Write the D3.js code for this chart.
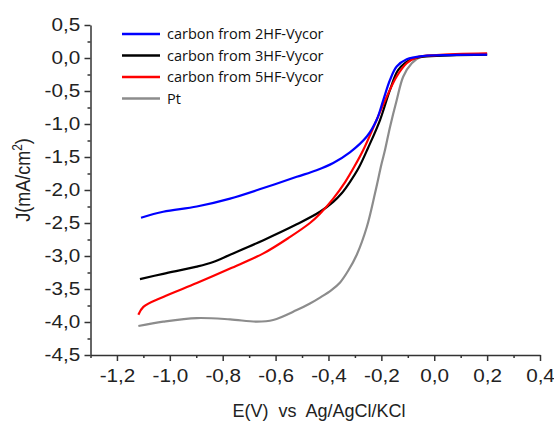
<!DOCTYPE html>
<html>
<head>
<meta charset="utf-8">
<script src="https://cdn.jsdelivr.net/npm/d3@7"></script>
<style>
  body { margin: 0; background: #fff; }
  .axis text { font-family: "Liberation Sans", Arial, sans-serif; font-size: 18px; fill: #222; }
  .axis path, .axis line { stroke: #333; stroke-width: 1.5; }
</style>
</head>
<body>
<div class="chart"></div>
<script>
// Values
const blueE = [-1.109, -1.025, -0.898, -0.772, -0.646, -0.52, -0.445, -0.382, -0.319, -0.255, -0.218, -0.193, -0.167, -0.142, -0.104, -0.041, 0.06, 0.2];
const blueJ = [-2.42, -2.33, -2.25, -2.13, -1.97, -1.80, -1.70, -1.59, -1.43, -1.19, -0.94, -0.64, -0.33, -0.13, -0.02, 0.03, 0.045, 0.05];

const blackE = [-1.113, -1.025, -0.898, -0.836, -0.772, -0.646, -0.52, -0.432, -0.382, -0.35, -0.319, -0.285, -0.25, -0.205, -0.167, -0.136, -0.092, -0.041, 0.06, 0.2];
const blackJ = [-3.35, -3.27, -3.16, -3.09, -2.98, -2.76, -2.52, -2.33, -2.18, -2.05, -1.88, -1.66, -1.36, -0.94, -0.48, -0.18, -0.03, 0.02, 0.04, 0.05];

const redE = [-1.119, -1.1, -1.025, -0.898, -0.772, -0.646, -0.545, -0.47, -0.432, -0.382, -0.337, -0.3, -0.268, -0.218, -0.18, -0.142, -0.104, -0.066, 0.009, 0.2];
const redJ = [-3.89, -3.77, -3.62, -3.41, -3.19, -2.96, -2.71, -2.50, -2.36, -2.13, -1.88, -1.63, -1.39, -0.94, -0.59, -0.28, -0.08, 0.01, 0.045, 0.07];

const grayE = [-1.119, -1.025, -0.898, -0.772, -0.671, -0.609, -0.52, -0.47, -0.432, -0.39, -0.356, -0.325, -0.293, -0.255, -0.224, -0.199, -0.186, -0.167, -0.142, -0.117, -0.085, -0.054, 0.009, 0.2];
const grayJ = [-4.06, -3.995, -3.94, -3.96, -3.995, -3.97, -3.82, -3.72, -3.63, -3.52, -3.40, -3.22, -2.98, -2.56, -2.05, -1.60, -1.39, -1.04, -0.64, -0.28, -0.08, 0.01, 0.04, 0.05];

const seriesNames = ["carbon from 2HF-Vycor", "carbon from 3HF-Vycor", "carbon from 5HF-Vycor", "Pt"];
const xTicks = [-1.2, -1.0, -0.8, -0.6, -0.4, -0.2, 0.0, 0.2, 0.4];
const yTicks = [0.5, 0.0, -0.5, -1.0, -1.5, -2.0, -2.5, -3.0, -3.5, -4.0, -4.5];
const xMinor = [-1.3, -1.1, -0.9, -0.7, -0.5, -0.3, -0.1, 0.1, 0.3];
const yMinor = [0.25, -0.25, -0.75, -1.25, -1.75, -2.25, -2.75, -3.25, -3.75, -4.25];

const colors = ["#0000ff", "#000000", "#ff0000", "#8c8c8c"];

const W = 554, H = 421;
const margin = { top: 25, right: 14, bottom: 66, left: 90.5 };
const width = W - margin.left - margin.right;
const height = H - margin.top - margin.bottom;

const svg = d3.select(".chart").append("svg")
  .attr("width", W)
  .attr("height", H);

const g = svg.append("g")
  .attr("transform", `translate(${margin.left},${margin.top})`);

const xScale = d3.scaleLinear().domain([-1.3, 0.4]).range([0, width]);
const yScale = d3.scaleLinear().domain([-4.5, 0.5]).range([height, 0]);

const comma = (f) => (d) => d3.format(f)(d).replace(".", ",").replace("−", "-");

// minor ticks
g.append("g").attr("class", "axis")
  .attr("transform", `translate(0,${height})`)
  .call(d3.axisBottom(xScale).tickValues(xMinor).tickSize(3).tickFormat(""))
  .select(".domain").remove();
g.append("g").attr("class", "axis")
  .call(d3.axisLeft(yScale).tickValues(yMinor).tickSize(3).tickFormat(""))
  .select(".domain").remove();

const xAxisG = g.append("g").attr("class", "axis")
  .attr("transform", `translate(0,${height})`)
  .call(d3.axisBottom(xScale).tickValues(xTicks).tickSize(6).tickSizeOuter(0).tickPadding(8).tickFormat(comma(".1f")));
xAxisG.selectAll("text").attr("transform", "scale(1.15,1)");

const yAxisG = g.append("g").attr("class", "axis")
  .call(d3.axisLeft(yScale).tickValues(yTicks).tickSize(6).tickSizeOuter(0).tickPadding(3).tickFormat(comma(".1f")));
yAxisG.selectAll("text").attr("transform", "scale(1.15,1)");

// curves
const line = d3.line()
  .x((d) => xScale(d[0]))
  .y((d) => yScale(d[1]))
  .curve(d3.curveCatmullRom.alpha(0.5));

const series = [
  d3.zip(blueE, blueJ),
  d3.zip(blackE, blackJ),
  d3.zip(redE, redJ),
  d3.zip(grayE, grayJ)
];

// draw gray first so the carbon curves sit on top, blue last
[3, 1, 2, 0].forEach((i) => {
  g.append("path")
    .datum(series[i])
    .attr("d", line)
    .attr("fill", "none")
    .attr("stroke", colors[i])
    .attr("stroke-width", 2.2)
    .attr("stroke-linejoin", "round");
});

// legend
const legend = svg.append("g").attr("transform", "translate(122,34)");
seriesNames.forEach((name, i) => {
  const row = legend.append("g").attr("transform", `translate(0,${i * 21.5})`);
  row.append("line")
    .attr("x1", 0).attr("x2", 38)
    .attr("stroke", colors[i])
    .attr("stroke-width", 2.5);
  row.append("text")
    .attr("x", 45)
    .attr("dy", "0.35em")
    .attr("font-family", "'Open Sans', sans-serif")
    .attr("font-size", 14.5)
    .attr("fill", "#111")
    .text(name);
});

// axis titles
svg.append("text")
  .attr("transform", `translate(30,${margin.top + height / 2 - 10}) rotate(-90) scale(1,1.15)`)
  .attr("text-anchor", "middle")
  .attr("font-family", "'Liberation Sans', Arial, sans-serif")
  .attr("font-size", 18)
  .attr("fill", "#222")
  .html("J(mA/cm<tspan dy='-7' font-size='12'>2</tspan><tspan dy='7'>)</tspan>");

svg.append("text")
  .attr("x", 319)
  .attr("y", 417)
  .attr("text-anchor", "middle")
  .attr("font-family", "'Liberation Sans', Arial, sans-serif")
  .attr("font-size", 18)
  .attr("fill", "#222")
  .attr("xml:space", "preserve")
  .text("E(V)  vs  Ag/AgCl/KCl");
</script>
</body>
</html>
